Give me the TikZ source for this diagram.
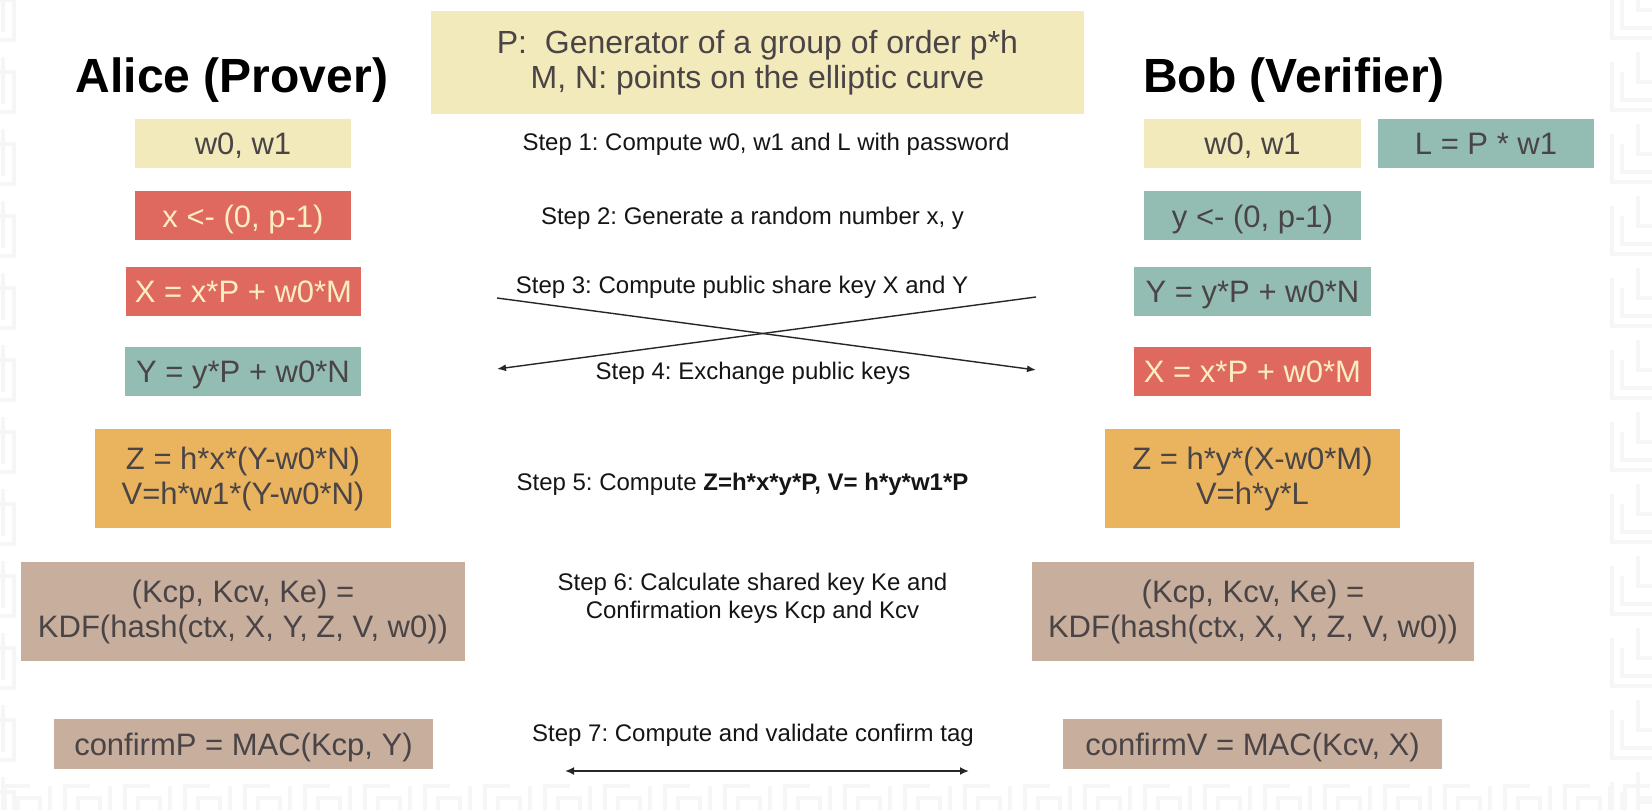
\documentclass[tikz,border=0pt]{standalone}
\usepackage{fontspec}
\setmainfont{Liberation Sans}
\usetikzlibrary{arrows.meta}
\frenchspacing
\definecolor{pyellow}{HTML}{F3EABB}
\definecolor{pred}{HTML}{E0695F}
\definecolor{pteal}{HTML}{93BDB3}
\definecolor{porange}{HTML}{EAB45F}
\definecolor{ptan}{HTML}{C7AE9D}
\definecolor{boxtext}{HTML}{4A4446}
\definecolor{creamtext}{HTML}{FBEDC4}
\definecolor{mazegray}{HTML}{F6F6F6}
\definecolor{steptext}{HTML}{151515}
\tikzset{
  box/.style={rectangle, inner sep=0pt, align=center, text=boxtext,
    font=\fontsize{31}{35}\selectfont},
  onebox/.style={box, text height=22.5pt, text depth=0pt},
  ybox/.style={fill=pyellow},
  rbox/.style={fill=pred, text=creamtext},
  tbox/.style={fill=pteal},
  obox/.style={fill=porange},
  nbox/.style={fill=ptan},
  title/.style={font=\fontsize{48}{52}\selectfont\bfseries, text=black, anchor=base, inner sep=0pt},
  steplabel/.style={font=\fontsize{24}{28}\selectfont, text=steptext, align=center, inner sep=0pt},
  xarrow/.style={draw=black!85, line width=1.4pt, -{Latex[length=9pt,width=7pt]}},
  darrow/.style={draw=black!85, line width=2.6pt, {Latex[length=9pt,width=8pt]}-{Latex[length=9pt,width=8pt]}},
  maze/.style={draw=mazegray, line width=4pt}
}
\begin{document}
\begin{tikzpicture}[x=1pt,y=-1pt]
\useasboundingbox (0,0) rectangle (1652,810);
\fill[white] (0,0) rectangle (1652,810);
% faint maze background
\foreach \k in {0,...,11}{
  \pgfmathsetmacro{\yy}{\k*72-20}
  \draw[maze] (1612,\yy+10) -- (1612,\yy+58) -- (1652,\yy+58);
  \draw[maze] (1622,\yy+20) -- (1622,\yy+48) -- (1652,\yy+48);
  \draw[maze] (1638,\yy) -- (1638,\yy+30) -- (1652,\yy+30);
  \draw[maze] (3,\yy+5) -- (3,\yy+52);
  \draw[maze] (0,\yy+60) -- (14,\yy+60) -- (14,\yy+20) -- (0,\yy+20);
}
\foreach \k in {0,...,27}{
  \pgfmathsetmacro{\xx}{\k*60}
  \draw[maze] (\xx+5,810) -- (\xx+5,786) -- (\xx+30,786);
  \draw[maze] (\xx+18,810) -- (\xx+18,798) -- (\xx+40,798) -- (\xx+40,810);
  \draw[maze] (\xx+50,786) -- (\xx+50,810);
}
% titles
\node[title] (alice) at (232,93) {Alice (Prover)};
\node[title] (bob) at (1294,93) {Bob (Verifier)};
% top parameter box
\node[box, ybox, minimum width=653pt, minimum height=103pt,
  font=\fontsize{32}{35}\selectfont] (params) at (757.5,62.5)
  {P:\ \ Generator of a group of order p*h\\M, N: points on the elliptic curve};
% left column
\node[onebox, ybox, minimum width=216pt, minimum height=49pt] (L1) at (243,143.5) {w0, w1};
\node[onebox, rbox, minimum width=216pt, minimum height=49pt] (L2) at (243,216) {x <- (0, p-1)};
\node[onebox, rbox, minimum width=235pt, minimum height=49pt] (L3) at (243.5,291.5) {X = x*P + w0*M};
\node[onebox, tbox, minimum width=236pt, minimum height=49pt] (L4) at (243,371.5) {Y = y*P + w0*N};
\node[box, obox, minimum width=296pt, minimum height=99pt] (L5) at (243,478.5) {Z = h*x*(Y-w0*N)\\V=h*w1*(Y-w0*N)};
\node[box, nbox, minimum width=444pt, minimum height=99pt] (L6) at (243,611.5) {(Kcp, Kcv, Ke) =\\KDF(hash(ctx, X, Y, Z, V, w0))};
\node[onebox, nbox, minimum width=379pt, minimum height=50pt] (L7) at (243.5,744) {confirmP = MAC(Kcp, Y)};
% right column
\node[onebox, ybox, minimum width=217pt, minimum height=49pt] (R1) at (1252.5,143.5) {w0, w1};
\node[onebox, tbox, minimum width=216pt, minimum height=49pt] (R1b) at (1486,143.5) {L = P * w1};
\node[onebox, tbox, minimum width=217pt, minimum height=49pt] (R2) at (1252.5,216) {y <- (0, p-1)};
\node[onebox, tbox, minimum width=237pt, minimum height=49pt] (R3) at (1252.5,291.5) {Y = y*P + w0*N};
\node[onebox, rbox, minimum width=237pt, minimum height=49pt] (R4) at (1252.5,371.5) {X = x*P + w0*M};
\node[box, obox, minimum width=295pt, minimum height=99pt] (R5) at (1252.5,478.5) {Z = h*y*(X-w0*M)\\V=h*y*L};
\node[box, nbox, minimum width=442pt, minimum height=99pt] (R6) at (1253,611.5) {(Kcp, Kcv, Ke) =\\KDF(hash(ctx, X, Y, Z, V, w0))};
\node[onebox, nbox, minimum width=379pt, minimum height=50pt] (R7) at (1252.5,744) {confirmV = MAC(Kcv, X)};
% step labels
\node[steplabel] (s1) at (766,144) {Step 1: Compute w0, w1 and L with password};
\node[steplabel] (s2) at (752.5,218) {Step 2: Generate a random number x, y};
\node[steplabel] (s3) at (742,287) {Step 3: Compute public share key X and Y};
\node[steplabel] (s4) at (753,373) {Step 4: Exchange public keys};
\node[steplabel] (s5) at (742.5,484) {Step 5: Compute \textbf{Z=h*x*y*P, V= h*y*w1*P}};
\node[steplabel] (s6) at (752.5,598) {Step 6: Calculate shared key Ke and\\Confirmation keys Kcp and Kcv};
\node[steplabel] (s7) at (753,735) {Step 7: Compute and validate confirm tag};
% exchange arrows
\coordinate (a3s) at (497,298);
\coordinate (a3e) at (1036,370);
\coordinate (a4s) at (1036,297);
\coordinate (a4e) at (497,369);
\draw[xarrow] (a3s) -- (a3e);
\draw[xarrow] (a4s) -- (a4e);
\coordinate (a7s) at (565,771);
\coordinate (a7e) at (969,771);
\draw[darrow] (a7s) -- (a7e);
\end{tikzpicture}
\end{document}
